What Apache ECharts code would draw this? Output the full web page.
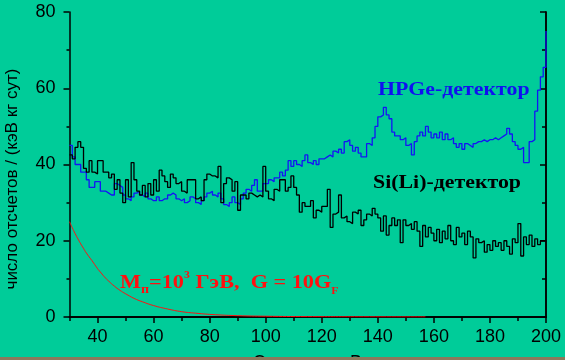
<!DOCTYPE html>
<html>
<head>
<meta charset="utf-8">
<script src="https://cdn.jsdelivr.net/npm/echarts@6/dist/echarts.min.js"></script>
<style>
html, body { margin: 0; padding: 0; background: #00cc99; }
#chart { width: 565px; height: 360px; }
</style>
</head>
<body>
<div id="chart"></div>
<script>
// bins are 1 keV wide, starting at 30 keV
var binStart = 30;

// HPGe-детектор, counts per bin 30..199, last entry is the edge at 200
var hpge = [
    45, 42, 40, 40, 38, 38, 36, 34, 34, 35.5,
    35.5, 33, 33, 32.5, 32, 32, 35, 34.5, 34, 32,
    31, 30.5, 31.5, 32.5, 33, 32, 31.5, 32.5, 31, 30.5,
    30.5, 31.5, 30.5, 31, 31, 32, 32.5, 32, 31, 30.5,
    31, 30, 30.5, 31.5, 31, 30, 29.5, 30.5, 31.5, 32.5,
    33, 32, 31.5, 32.5, 31, 29.5, 29, 30, 31.5, 30,
    29.5, 31, 32.5, 33.5, 33, 34.5, 36, 33, 33, 35,
    35, 36, 35.5, 36.5, 36.5, 38, 37, 38.5, 41, 39.5,
    41, 40, 39.5, 41, 42.5, 40.5, 40, 41, 40, 41.5,
    41.5, 42, 42.5, 42, 43.5, 43, 44, 43, 46, 46.5,
    45, 43.5, 44.5, 43, 42, 42, 45.5, 45, 47, 50,
    52.5, 53, 55, 53, 52, 48.5, 47.5, 47.5, 46.5, 47,
    45, 45.5, 42.5, 46, 47.5, 48.5, 47.5, 50, 48.5, 47,
    48, 47, 48.5, 46.5, 48, 46.5, 47, 45.5, 44.5, 45.5,
    44, 45.5, 45, 44.5, 45.5, 46, 46, 46.5, 46, 46.5,
    46.5, 47, 46.5, 47, 47.5, 48, 49.5, 48, 46, 45,
    44, 44.5, 40.5, 40.5, 46, 46.5, 54, 59.5, 63, 65.5,
    75
];

// Si(Li)-детектор
var sili = [
    42.5, 41.5, 44.5, 46, 44.5, 39, 38, 41, 38, 37.5,
    41, 41, 38, 38, 36.5, 37.5, 33.5, 36, 32.5, 30,
    36, 31.5, 40.5, 36, 33, 32, 34.5, 31.5, 35, 32,
    36, 33, 38.5, 37, 35.5, 34, 37.5, 36.5, 35, 35.5,
    33, 32.5, 36, 36, 36, 31, 31.5, 30.5, 36, 37.5,
    37, 37, 36.5, 39.5, 30, 35, 36.5, 36, 33, 35.5,
    28, 32, 32, 31, 32.5, 32, 31.5, 32, 31.5, 39.5,
    33, 31, 30.5, 33.5, 33, 36, 36, 33, 34, 37,
    34, 32, 27.5, 30, 29, 29, 30.5, 26, 28, 27.5,
    29, 29, 33.5, 23.5, 27, 27.5, 32, 26, 26.5, 25,
    24.5, 27.5, 27, 28, 24, 25.5, 27, 26.5, 28.5, 27,
    26, 22.5, 26.5, 21.5, 24, 26, 24, 25.5, 19.5, 25.5,
    24, 24.5, 23, 25, 22.5, 18.5, 24, 21, 23.5, 22,
    20, 23, 19.5, 22.5, 20.5, 24, 20, 19, 23.5, 21,
    22, 19, 22.5, 21, 15.5, 20.5, 19.5, 20, 17, 19,
    17.5, 20, 18.5, 19.5, 17.5, 20, 18.5, 16.5, 20.5, 19.5,
    24.5, 16, 21, 19, 21.5, 18.5, 20.5, 19, 20, 20,
    20
];

// расчётная кривая
var calcE = [30, 31, 32, 33, 34, 35, 36, 38, 40, 41, 43, 44, 46, 48, 50, 53, 56, 60, 65, 70, 75, 82, 90, 100, 115, 135, 157];
var calcY = [25, 23.4, 21.9, 20.5, 19.2, 18, 16.8, 14.8, 12.7, 11.8, 10.1, 9.4, 8.1, 7, 6.1, 4.9, 4, 3, 2.1, 1.4, 1, 0.6, 0.35, 0.2, 0.1, 0.05, 0.02];

var xLabels = [40, 60, 80, 100, 120, 140, 160, 180, 200];
var xMinor = [30, 50, 70, 90, 110, 130, 150, 170, 190];
var yLabels = [0, 20, 40, 60, 80];
var yMinor = [10, 30, 50, 70];

function toSteps(vals) {
    var out = [];
    for (var i = 0; i < vals.length; i++) {
        out.push([binStart + i, vals[i]]);
    }
    return out;
}

var calcData = calcE.map(function (e, i) { return [e, calcY[i]]; });

var chartDom = document.getElementById('chart');
var myChart = echarts.init(chartDom, null, { renderer: 'canvas' });

var sans = '"Liberation Sans", Arial, sans-serif';
var serif = '"Liberation Serif", "Times New Roman", serif';
var axisLine = { show: true, lineStyle: { color: '#000', width: 1.5 } };

function xAx(pos, ticks, len, inside, labels) {
    return {
        type: 'value', position: pos, min: 30, max: 200, interval: 10,
        axisLine: labels !== undefined || pos === 'top' ? axisLine : { show: false },
        axisTick: { show: true, inside: inside, length: len, customValues: ticks,
            lineStyle: { color: '#000', width: 1.5 } },
        axisLabel: labels ? { show: true, customValues: labels, color: '#000',
            fontSize: 18, fontFamily: sans, margin: 11 } : { show: false },
        splitLine: { show: false }
    };
}

function yAx(pos, ticks, len, inside, labels) {
    return {
        type: 'value', position: pos, min: 0, max: 80, interval: 10,
        axisLine: labels !== undefined || pos === 'right' ? axisLine : { show: false },
        axisTick: { show: true, inside: inside, length: len, customValues: ticks,
            lineStyle: { color: '#000', width: 1.5 } },
        axisLabel: labels ? { show: true, customValues: labels, color: '#000',
            fontSize: 18, fontFamily: sans, margin: 14 } : { show: false },
        splitLine: { show: false }
    };
}

var xMain = xAx('bottom', xLabels, 6, false, xLabels);
xMain.name = 'Энергия, кэВ';
xMain.nameLocation = 'middle';
xMain.nameGap = 37;
xMain.nameTextStyle = { color: '#000', fontSize: 18, fontFamily: sans };

var option = {
    backgroundColor: '#00cc99',
    animation: false,
    grid: { left: 69.5, right: 19, top: 12, bottom: 43, outerBoundsMode: 'none', containLabel: false },
    xAxis: [
        xMain,
        xAx('bottom', xMinor, 4, false),
        xAx('top', xLabels, 6, true),
        xAx('top', xMinor, 4, true)
    ],
    yAxis: [
        yAx('left', yLabels, 6, false, yLabels),
        yAx('left', yMinor, 3, false),
        yAx('right', yLabels, 6, true),
        yAx('right', yMinor, 4, true)
    ],
    series: [
        {
            name: 'HPGe-детектор', type: 'line', step: 'end',
            xAxisIndex: 0, yAxisIndex: 0,
            data: toSteps(hpge), showSymbol: false, symbol: 'none',
            lineStyle: { color: '#1414f5', width: 1.3 }
        },
        {
            name: 'Si(Li)-детектор', type: 'line', step: 'end',
            xAxisIndex: 0, yAxisIndex: 0,
            data: toSteps(sili), showSymbol: false, symbol: 'none',
            lineStyle: { color: '#000', width: 1.3 }
        },
        {
            name: 'calc', type: 'line', smooth: true,
            xAxisIndex: 0, yAxisIndex: 0,
            data: calcData, showSymbol: false, symbol: 'none',
            lineStyle: { color: '#ff1010', width: 1 }
        }
    ],
    graphic: [
        {
            type: 'text', x: 12, y: 179, rotation: Math.PI / 2,
            style: { text: 'число отсчетов / (кэВ кг сут)', fill: '#000',
                font: '17px ' + sans, align: 'center', verticalAlign: 'middle' }
        },
        {
            type: 'text', x: 378, y: 90, scaleX: 1.15,
            style: { text: 'HPGe-детектор', fill: '#1010f0',
                font: 'bold 19px ' + serif, verticalAlign: 'middle' }
        },
        {
            type: 'text', x: 373, y: 183, scaleX: 1.15,
            style: { text: 'Si(Li)-детектор', fill: '#000',
                font: 'bold 19px ' + serif, verticalAlign: 'middle' }
        },
        {
            type: 'text', x: 120, y: 283, scaleX: 1.17,
            style: {
                text: 'M{sb|п}=10{sp|3} ГэВ,  G = 10G{sf|F}',
                fill: '#ff1010', font: 'bold 19px ' + serif,
                fontWeight: 'bold', fontSize: 19, fontFamily: serif,
                lineHeight: 26, verticalAlign: 'middle',
                rich: {
                    sb: { fontSize: 12, fontWeight: 'bold', fontFamily: serif, fill: '#ff1010',
                        lineHeight: 10, verticalAlign: 'bottom' },
                    sp: { fontSize: 10, fontWeight: 'bold', fontFamily: serif, fill: '#ff1010',
                        lineHeight: 16, verticalAlign: 'top' },
                    sf: { fontSize: 10, fontWeight: 'bold', fontFamily: serif, fill: '#ff1010',
                        lineHeight: 8, verticalAlign: 'bottom' }
                }
            }
        },
        {
            type: 'rect', z: 100,
            shape: { x: 0, y: 357, width: 565, height: 3 },
            style: { fill: '#8a7a5c' }
        }
    ]
};

myChart.setOption(option);

window.addEventListener('resize', function () {
    myChart.resize();
});
</script>
</body>
</html>
